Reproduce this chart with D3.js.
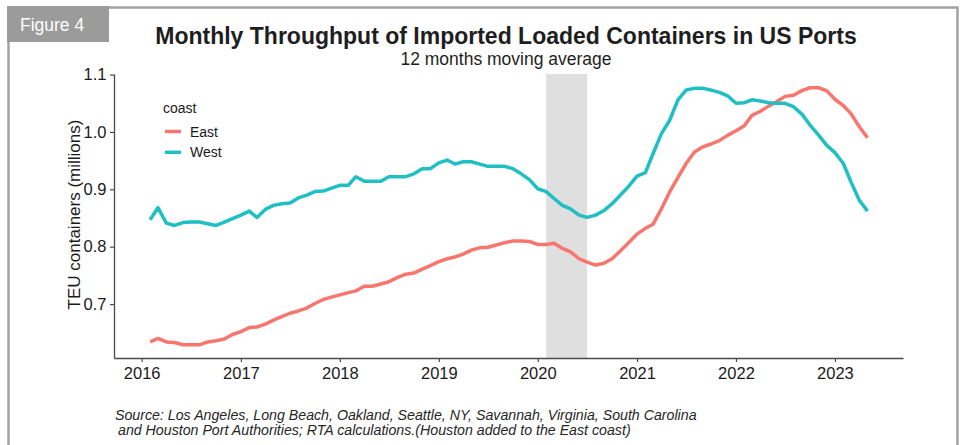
<!DOCTYPE html>
<html>
<head>
<meta charset="utf-8">
<script src="https://cdn.jsdelivr.net/npm/d3@7"></script>
<style>
  body { margin: 0; background: #fff; }
  svg { display: block; font-family: 'Liberation Sans', Arial, sans-serif; }
</style>
</head>
<body>
<svg></svg>
<script>
// monthly points, Feb 2016 - May 2023
let months = [
    '2016-02','2016-03','2016-04','2016-05','2016-06','2016-07','2016-08','2016-09','2016-10','2016-11','2016-12',
    '2017-01','2017-02','2017-03','2017-04','2017-05','2017-06','2017-07','2017-08','2017-09','2017-10','2017-11','2017-12',
    '2018-01','2018-02','2018-03','2018-04','2018-05','2018-06','2018-07','2018-08','2018-09','2018-10','2018-11','2018-12',
    '2019-01','2019-02','2019-03','2019-04','2019-05','2019-06','2019-07','2019-08','2019-09','2019-10','2019-11','2019-12',
    '2020-01','2020-02','2020-03','2020-04','2020-05','2020-06','2020-07','2020-08','2020-09','2020-10','2020-11','2020-12',
    '2021-01','2021-02','2021-03','2021-04','2021-05','2021-06','2021-07','2021-08','2021-09','2021-10','2021-11','2021-12',
    '2022-01','2022-02','2022-03','2022-04','2022-05','2022-06','2022-07','2022-08','2022-09','2022-10','2022-11','2022-12',
    '2023-01','2023-02','2023-03','2023-04','2023-05'
]

let east = [
    0.634, 0.640, 0.634, 0.633, 0.629, 0.629, 0.629, 0.634, 0.636, 0.639, 0.647,
    0.652, 0.659, 0.660, 0.665, 0.672, 0.678, 0.684, 0.688, 0.693, 0.701, 0.708, 0.712,
    0.716, 0.720, 0.723, 0.731, 0.731, 0.735, 0.739, 0.746, 0.752, 0.754, 0.761, 0.767,
    0.774, 0.779, 0.782, 0.787, 0.794, 0.798, 0.799, 0.803, 0.807, 0.810, 0.810, 0.809,
    0.804, 0.804, 0.806, 0.797, 0.791, 0.779, 0.773, 0.768, 0.771, 0.779, 0.793, 0.807,
    0.822, 0.832, 0.839, 0.866, 0.895, 0.921, 0.945, 0.965, 0.974, 0.979, 0.985, 0.994,
    1.002, 1.011, 1.029, 1.036, 1.045, 1.053, 1.062, 1.064, 1.072, 1.077, 1.077, 1.072,
    1.057, 1.046, 1.032, 1.009, 0.990
]

let west = [
    0.847, 0.868, 0.841, 0.837, 0.842, 0.843, 0.843, 0.840, 0.837, 0.843, 0.849,
    0.855, 0.862, 0.851, 0.865, 0.872, 0.875, 0.876, 0.885, 0.890, 0.896, 0.897, 0.902,
    0.907, 0.907, 0.922, 0.914, 0.914, 0.914, 0.922, 0.922, 0.922, 0.927, 0.936, 0.936,
    0.946, 0.951, 0.944, 0.948, 0.948, 0.944, 0.940, 0.940, 0.940, 0.936, 0.927, 0.917,
    0.901, 0.896, 0.884, 0.872, 0.866, 0.855, 0.851, 0.855, 0.863, 0.875, 0.890, 0.905,
    0.923, 0.929, 0.962, 0.997, 1.020, 1.056, 1.073, 1.076, 1.076, 1.073, 1.069, 1.063,
    1.050, 1.051, 1.056, 1.054, 1.051, 1.050, 1.050, 1.044, 1.031, 1.012, 0.995, 0.977,
    0.964, 0.945, 0.913, 0.881, 0.862
]

let coasts = ['East', 'West']
let coastColors = ['#F8766D', '#1FBFC4']
let yearTicks = ['2016', '2017', '2018', '2019', '2020', '2021', '2022', '2023']
let yTicks = [0.7, 0.8, 0.9, 1.0, 1.1]
let shadeStart = '2020-02'
let shadeEnd = '2020-07'

let width = 961
let height = 445
let plotLeft = 114
let plotRight = 903
let plotTop = 74
let plotBottom = 358

let parseMonth = d3.timeParse('%Y-%m')
let parseYear = d3.timeParse('%Y')

let svg = d3.select('svg')
    .attr('width', width)
    .attr('height', height)

let xScale = d3.scaleTime()
    .domain([new Date(2015, 8, 21), new Date(2023, 8, 9)])
    .range([plotLeft, plotRight])

let yScale = d3.scaleLinear()
    .domain([0.606, 1.101])
    .range([plotBottom, plotTop])

// frame and figure tag
svg.append('path')
    .attr('d', `M8.5,${height} V7.5 H957.5 V${height}`)
    .attr('fill', 'none')
    .attr('stroke', '#a3a3a3')
    .attr('stroke-width', 2.5)

svg.append('rect')
    .attr('x', 7).attr('y', 6)
    .attr('width', 102).attr('height', 36)
    .attr('fill', '#9b9b9b')

svg.append('text')
    .attr('x', 20).attr('y', 31)
    .attr('fill', '#fff')
    .style('font-size', '17.5px')
    .text('Figure 4')

// titles
svg.append('text')
    .attr('x', 506).attr('y', 44)
    .attr('text-anchor', 'middle')
    .attr('fill', '#1e1e1e')
    .style('font-size', '23px')
    .style('font-weight', 'bold')
    .text('Monthly Throughput of Imported Loaded Containers in US Ports')

svg.append('text')
    .attr('x', 506).attr('y', 65)
    .attr('text-anchor', 'middle')
    .attr('fill', '#1e1e1e')
    .style('font-size', '17.5px')
    .text('12 months moving average')

// covid shading
svg.append('rect')
    .attr('x', xScale(parseMonth(shadeStart)))
    .attr('y', plotTop)
    .attr('width', xScale(parseMonth(shadeEnd)) - xScale(parseMonth(shadeStart)))
    .attr('height', plotBottom - plotTop)
    .attr('fill', '#dfdfdf')

// axes
let xAxis = d3.axisBottom(xScale)
    .tickValues(yearTicks.map(parseYear))
    .tickFormat(d3.timeFormat('%Y'))
    .tickSize(4)
    .tickSizeOuter(0)
    .tickPadding(5)

let yAxis = d3.axisLeft(yScale)
    .tickValues(yTicks)
    .tickFormat(d3.format('.1f'))
    .tickSize(4)
    .tickSizeOuter(0)
    .tickPadding(3.5)

let gx = svg.append('g')
    .attr('transform', `translate(0, ${plotBottom})`)
    .call(xAxis)

let gy = svg.append('g')
    .attr('transform', `translate(${plotLeft}, 0)`)
    .call(yAxis)

for (let g of [gx, gy]) {
    g.select('.domain').attr('stroke', '#4a4a4a').attr('stroke-width', 1.3)
    g.selectAll('.tick line').attr('stroke', '#4a4a4a').attr('stroke-width', 1.2)
    g.selectAll('.tick text')
        .attr('fill', '#1a1a1a')
        .style('font-size', '16.5px')
        .style('font-family', "'Liberation Sans', Arial, sans-serif")
}

svg.append('text')
    .attr('transform', 'translate(79.5, 214.5) rotate(-90)')
    .attr('text-anchor', 'middle')
    .attr('fill', '#1a1a1a')
    .style('font-size', '17px')
    .text('TEU containers (millions)')

// lines
let line = d3.line()
    .x((d) => xScale(d.date))
    .y((d) => yScale(d.value))

let series = [east, west].map((values) => {
    return values.map((v, j) => ({ date: parseMonth(months[j]), value: v }))
})

svg.selectAll('.coast-line')
    .data(series)
    .enter()
    .append('path')
    .attr('class', 'coast-line')
    .attr('d', line)
    .attr('fill', 'none')
    .attr('stroke', (d, i) => coastColors[i])
    .attr('stroke-width', 3.5)
    .attr('stroke-linejoin', 'round')

// legend
svg.append('text')
    .attr('x', 163).attr('y', 113)
    .attr('fill', '#1a1a1a')
    .style('font-size', '14px')
    .text('coast')

let legend = svg.selectAll('.legend-item')
    .data(coasts)
    .enter()
    .append('g')
    .attr('class', 'legend-item')
    .attr('transform', (d, i) => `translate(0, ${131.5 + i * 20.8})`)

legend.append('line')
    .attr('x1', 165).attr('x2', 181)
    .attr('stroke', (d, i) => coastColors[i])
    .attr('stroke-width', 3.5)

legend.append('text')
    .attr('x', 190).attr('y', 5)
    .attr('fill', '#1a1a1a')
    .style('font-size', '14px')
    .text((d) => d)

// source note
let note = svg.append('text')
    .attr('fill', '#262626')
    .style('font-size', '14.2px')
    .style('font-style', 'italic')

note.append('tspan')
    .attr('x', 115).attr('y', 420)
    .text('Source: Los Angeles, Long Beach, Oakland, Seattle, NY, Savannah, Virginia, South Carolina')

note.append('tspan')
    .attr('x', 118).attr('y', 435)
    .text('and Houston Port Authorities; RTA calculations.(Houston added to the East coast)')
</script>
</body>
</html>
